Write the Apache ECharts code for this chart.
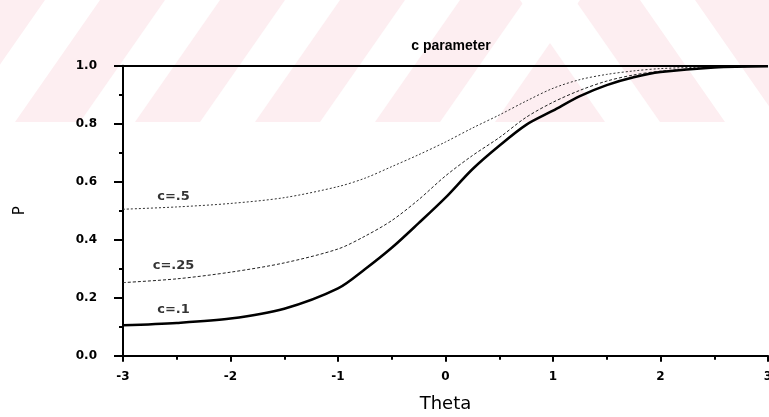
<!DOCTYPE html>
<html>
<head>
<meta charset="utf-8">
<script src="https://cdn.jsdelivr.net/npm/echarts@6/dist/echarts.min.js"></script>
<style>
  html, body { margin: 0; padding: 0; background: #fff; }
  #main { width: 769px; height: 417px; }
</style>
</head>
<body>
<div id="main"></div>
<script>
// theta grid and read-off values for each c curve
const theta = [-3, -2.5, -2, -1.5, -1, -0.75, -0.5, -0.25, 0, 0.25, 0.5, 0.75, 1, 1.25, 1.5, 1.75, 2, 2.5, 3];
const pC10 = [0.105, 0.113, 0.128, 0.162, 0.232, 0.298, 0.372, 0.457, 0.545, 0.643, 0.724, 0.796, 0.845, 0.895, 0.933, 0.960, 0.978, 0.994, 0.998];
const pC25 = [0.252, 0.265, 0.288, 0.320, 0.368, 0.412, 0.466, 0.538, 0.620, 0.690, 0.752, 0.822, 0.874, 0.915, 0.947, 0.968, 0.981, 0.994, 0.998];
const pC50 = [0.505, 0.513, 0.525, 0.545, 0.583, 0.612, 0.652, 0.693, 0.737, 0.785, 0.830, 0.878, 0.922, 0.952, 0.970, 0.982, 0.990, 0.996, 0.999];
const yTicks = [0, 0.2, 0.4, 0.6, 0.8, 1.0];
// curve labels: [text, theta, P]
const curveLabels = [
  ['c=.5', -2.53, 0.547],
  ['c=.25', -2.53, 0.309],
  ['c=.1', -2.53, 0.160]
];

const pairs = ys => theta.map((t, i) => [t, ys[i]]);

// pink diagonal watermark in the top band
const stripes = [];
[-40, 80, 200, 320, 440].forEach(x => {
  stripes.push({ type: 'polygon', shape: { points: [[x, 122], [x + 55, 122], [x + 140, 0], [x + 85, 0]] },
    style: { fill: '#fff' }, silent: true, z: -9 });
});
[520, 640].forEach(x => {
  stripes.push({ type: 'polygon', shape: { points: [[x, 0], [x + 55, 0], [x + 140, 122], [x + 85, 122]] },
    style: { fill: '#fff' }, silent: true, z: -9 });
});

const font = 'DejaVu Sans, Verdana, sans-serif';
const chart = echarts.init(document.getElementById('main'));

chart.setOption({
  backgroundColor: '#fff',
  animation: false,
  title: {
    text: 'c parameter',
    left: 446, top: 34, textAlign: 'center',
    textStyle: { fontFamily: 'Liberation Sans, Arial, sans-serif', fontSize: 14, fontWeight: 'bold', color: '#000' }
  },
  graphic: [
    { type: 'rect', shape: { x: 0, y: 0, width: 769, height: 122 }, style: { fill: '#fdeef1' }, silent: true, z: -10 }
  ].concat(stripes),
  grid: { left: 123, right: 1, top: 65.7, bottom: 61.3, outerBoundsMode: 'none' },
  xAxis: {
    type: 'value', min: -3, max: 3, interval: 1,
    name: 'Theta', nameLocation: 'middle', nameGap: 40,
    nameTextStyle: { fontFamily: font, fontSize: 18, color: '#000' },
    axisLine: { lineStyle: { color: '#000', width: 2 } },
    axisTick: { inside: false, length: 6, lineStyle: { color: '#000', width: 2 } },
    minorTick: { show: true, splitNumber: 2, length: 4, lineStyle: { color: '#000', width: 2 } },
    axisLabel: { margin: 15, fontFamily: font, fontSize: 12, fontWeight: 'bold', color: '#000' },
    splitLine: { show: false }
  },
  yAxis: {
    type: 'value', min: 0, max: 1, interval: 0.2,
    name: 'P', nameLocation: 'middle', nameGap: 95, nameRotate: 90,
    nameTextStyle: { fontFamily: font, fontSize: 15, color: '#000' },
    axisLine: { show: true, onZero: false, lineStyle: { color: '#000', width: 2 } },
    axisTick: { show: true, length: 9, lineStyle: { color: '#000', width: 2 } },
    minorTick: { show: true, splitNumber: 2, length: 4, lineStyle: { color: '#000', width: 2 } },
    axisLabel: {
      margin: 26, fontFamily: font, fontSize: 12, fontWeight: 'bold', color: '#000',
      formatter: v => yTicks.some(t => Math.abs(t - v) < 1e-9) ? v.toFixed(1) : ''
    },
    splitLine: { show: false }
  },
  series: [
    {
      type: 'line', data: pairs(pC50), smooth: 0.3, symbol: 'none',
      lineStyle: { color: '#333', width: 1, type: [2, 2] },
      markLine: {
        silent: true, symbol: 'none', label: { show: false },
        lineStyle: { color: '#000', width: 2, type: 'solid' },
        data: [{ yAxis: 1 }]
      }
    },
    {
      type: 'line', data: pairs(pC25), smooth: 0.3, symbol: 'none',
      lineStyle: { color: '#222', width: 1, type: [3, 2] }
    },
    {
      type: 'line', data: pairs(pC10), smooth: 0.3, symbol: 'none',
      lineStyle: { color: '#000', width: 2.5 }
    },
    {
      type: 'scatter', symbolSize: 0, silent: true,
      data: curveLabels.map(d => ({ value: [d[1], d[2]], name: d[0] })),
      label: {
        show: true, position: 'inside', formatter: p => p.name,
        fontFamily: font, fontSize: 13, fontWeight: 'bold', color: '#000'
      }
    }
  ]
});
</script>
</body>
</html>
